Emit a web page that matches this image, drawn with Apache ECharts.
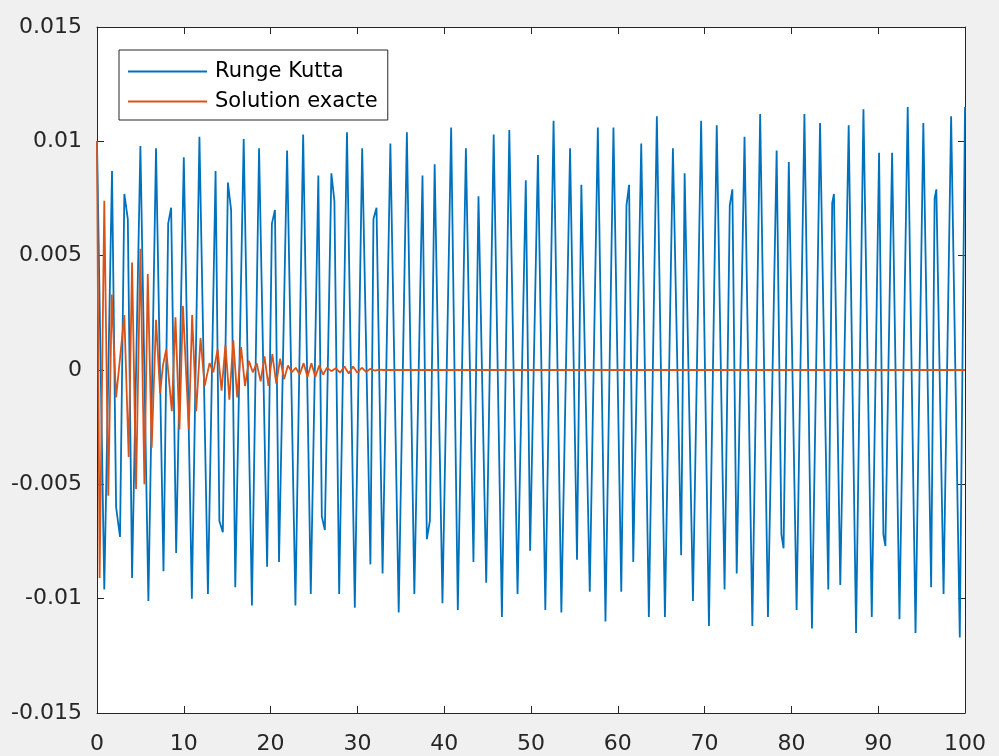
<!DOCTYPE html>
<html>
<head>
<meta charset="utf-8">
<script src="https://cdn.jsdelivr.net/npm/echarts@6/dist/echarts.min.js"></script>
<style>
html,body{margin:0;padding:0;background:#f0f0f0;}
#c{width:999px;height:756px;}
</style>
</head>
<body>
<div id="c"></div>
<script>
var seriesNames = ['Runge Kutta', 'Solution exacte'];
var xTicks = [0, 10, 20, 30, 40, 50, 60, 70, 80, 90, 100];
var yTicks = [-0.015, -0.01, -0.005, 0, 0.005, 0.01, 0.015];

var rkT = [0, 0.84, 1.73, 2.2, 2.65, 3.15, 3.55, 4.04, 5.0, 5.92, 6.8, 7.66, 8.2, 8.54, 9.12, 10.0, 10.93, 11.8, 12.78, 13.66,
  14.1, 14.5, 15.08, 15.45, 15.93, 16.9, 17.85, 18.67, 19.6, 20.15, 20.5, 20.97, 21.9, 22.86, 23.75, 24.63, 25.5, 25.9, 26.25,
  27.0, 27.35, 27.9, 28.8, 29.7, 30.55, 31.5, 31.85, 32.2, 32.9, 33.8, 34.76, 35.7, 36.56, 37.5, 38.0, 38.35, 38.9, 39.8,
  40.8, 41.57, 42.5, 43.37, 43.95, 44.84, 45.7, 46.65, 47.5, 48.45, 49.4, 49.9, 50.8, 51.65, 52.6, 53.5, 54.5, 55.3, 55.8,
  56.77, 57.7, 58.58, 59.5, 60.4, 61.0, 61.3, 61.78, 62.7, 63.58, 64.5, 65.43, 66.35, 67.3, 67.7, 68.66, 69.6, 70.5, 71.4,
  72.3, 72.9, 73.2, 73.7, 74.6, 75.5, 76.4, 77.3, 78.3, 78.85, 79.1, 79.7, 80.6, 81.5, 82.37, 83.3, 84.25, 84.7, 84.9, 85.63,
  86.6, 87.45, 88.3, 89.26, 90.1, 90.6, 90.83, 91.6, 92.45, 93.4, 94.3, 95.2, 96.1, 96.5, 96.7, 97.53, 98.4, 99.4, 100];
var rkY = [0.0100, -0.0096, 0.0087, -0.0060, -0.0073, 0.0077, 0.0066, -0.0091, 0.0098, -0.0101, 0.0097, -0.0088, 0.0064, 0.0071, -0.0080, 0.0093, -0.0100, 0.0102, -0.0098, 0.0087,
  -0.0066, -0.0071, 0.0082, 0.0070, -0.0095, 0.0101, -0.0103, 0.0097, -0.0086, 0.0064, 0.0070, -0.0084, 0.0096, -0.0103, 0.0103, -0.0098, 0.0085, -0.0064, -0.0070,
  0.0086, 0.0074, -0.0098, 0.0104, -0.0104, 0.0097, -0.0085, 0.0066, 0.0071, -0.0089, 0.0099, -0.0106, 0.0104, -0.0098, 0.0085, -0.0074, -0.0066, 0.0090, -0.0102,
  0.0106, -0.0105, 0.0097, -0.0084, 0.0076, -0.0093, 0.0103, -0.0108, 0.0105, -0.0098, 0.0083, -0.0079, 0.0094, -0.0105, 0.0109, -0.0106, 0.0097, -0.0083, 0.0081,
  -0.0097, 0.0106, -0.0110, 0.0106, -0.0097, 0.0072, 0.0081, -0.0084, 0.0099, -0.0108, 0.0111, -0.0108, 0.0097, -0.0081, 0.0086, -0.0101, 0.0109, -0.0112, 0.0107,
  -0.0096, 0.0072, 0.0079, -0.0089, 0.0102, -0.0112, 0.0112, -0.0108, 0.0096, -0.0072, -0.0078, 0.0091, -0.0105, 0.0112, -0.0113, 0.0108, -0.0096, 0.0073, 0.0077, -0.0094,
  0.0107, -0.0115, 0.0114, -0.0108, 0.0095, -0.0072, -0.0077, 0.0095, -0.0109, 0.0115, -0.0115, 0.0108, -0.0095, 0.0075, 0.0079, -0.0098, 0.0111, -0.0117, 0.0115];

var exT = [0, 0.3, 0.84, 1.3, 1.7, 2.2, 3.15, 3.65, 4.04, 4.5, 5.0, 5.46, 5.85, 6.3, 6.8, 7.27, 7.6, 7.97, 8.62, 9.04, 9.5, 9.9,
  10.58, 10.96, 11.43, 11.93, 12.4, 12.97, 13.4, 13.9, 14.35, 14.8, 15.25, 15.7, 16.15, 16.6, 17.05, 17.5, 17.95, 18.4, 18.85,
  19.3, 19.75, 20.2, 20.65, 21.1, 21.55, 22.0, 22.45, 22.9, 23.35, 23.8, 24.25, 24.7, 25.15, 25.6, 26.05, 26.5, 27.0, 27.5,
  28.0, 28.5, 29.0, 29.5, 30.0, 30.5, 31.0, 31.5, 32.0, 32.5, 33.0, 34, 100];
var exY = [0.0100, -0.0091, 0.0074, -0.0055, 0.0033, -0.0012, 0.0024, -0.0038, 0.0047, -0.0052, 0.0053, -0.0050, 0.0042, -0.0034, 0.0022, -0.0010, 0.0002, 0.0009, -0.0018, 0.0023, -0.0026, 0.0028,
  -0.0026, 0.0024, -0.0018, 0.0014, -0.0007, 0.0003, -0.0001, 0.0009, -0.0009, 0.0011, -0.0013, 0.0013, -0.0012, 0.0010, -0.0007, 0.0004, -0.0001, 0.0003, -0.0005,
  0.0006, -0.0007, 0.0007, -0.0006, 0.0005, -0.0004, 0.0002, -0.0001, 0.0001, -0.0002, 0.0003, -0.0003, 0.0003, -0.0003, 0.0002, -0.0002, 0.0001, -0.00005, 0.00008,
  -0.00012, 0.00015, -0.00015, 0.00015, -0.00012, 0.0001, -0.00008, 0.00005, -0.00003, 0.00002, 0, 0, 0];

function pairs(t, y) { return t.map(function (v, i) { return [v, y[i]]; }); }

var axisColor = '#262626';
var font = 'DejaVu Sans';
var chart = echarts.init(document.getElementById('c'), null, { renderer: 'canvas' });

function fmtY(v) { return String(+v.toFixed(3)); }

var lineIcon = 'path://M0,0 L80,0 L80,1.8 L0,1.8 Z';

var option = {
  backgroundColor: '#f0f0f0',
  animation: false,
  grid: { left: 97, right: 34, top: 27, bottom: 43, show: true, backgroundColor: '#ffffff', borderWidth: 0 },
  legend: {
    data: [{ name: seriesNames[0], icon: lineIcon }, { name: seriesNames[1], icon: lineIcon }],
    orient: 'vertical',
    left: 119, top: 50,
    itemWidth: 79, itemHeight: 18, itemGap: 9,
    symbolKeepAspect: true,
    padding: [11, 10, 8, 9],
    backgroundColor: '#ffffff',
    borderColor: axisColor, borderWidth: 1,
    textStyle: { fontFamily: font, fontSize: 21, color: '#000000', padding: [0, 0, 0, 3] }
  },
  xAxis: [{
    type: 'value', min: xTicks[0], max: xTicks[xTicks.length - 1], interval: 10,
    axisLine: { show: true, onZero: false, lineStyle: { color: axisColor, width: 1 } },
    axisTick: { show: true, inside: true, length: 7, lineStyle: { color: axisColor } },
    axisLabel: { fontFamily: font, fontSize: 22, color: axisColor, margin: 20 },
    splitLine: { show: false }
  }, {
    type: 'value', position: 'top', min: xTicks[0], max: xTicks[xTicks.length - 1], interval: 10,
    axisLine: { show: true, onZero: false, lineStyle: { color: axisColor, width: 1 } },
    axisTick: { show: true, inside: true, length: 7, lineStyle: { color: axisColor } },
    axisLabel: { show: false }, splitLine: { show: false }
  }],
  yAxis: [{
    type: 'value', min: yTicks[0], max: yTicks[yTicks.length - 1], interval: 0.005,
    axisLine: { show: true, onZero: false, lineStyle: { color: axisColor, width: 1 } },
    axisTick: { show: true, inside: true, length: 7, lineStyle: { color: axisColor } },
    axisLabel: { fontFamily: font, fontSize: 22, color: axisColor, margin: 15, formatter: fmtY },
    splitLine: { show: false }
  }, {
    type: 'value', position: 'right', min: yTicks[0], max: yTicks[yTicks.length - 1], interval: 0.005,
    axisLine: { show: true, onZero: false, lineStyle: { color: axisColor, width: 1 } },
    axisTick: { show: true, inside: true, length: 7, lineStyle: { color: axisColor } },
    axisLabel: { show: false }, splitLine: { show: false }
  }],
  series: [{
    name: seriesNames[0], type: 'line', data: pairs(rkT, rkY), symbol: 'none', clip: true,
    lineStyle: { color: '#0072BD', width: 1.8 }, itemStyle: { color: '#0072BD' }
  }, {
    name: seriesNames[1], type: 'line', data: pairs(exT, exY), symbol: 'none', clip: true,
    lineStyle: { color: '#D95319', width: 1.8 }, itemStyle: { color: '#D95319' }
  }]
};
chart.setOption(option);
</script>
</body>
</html>
